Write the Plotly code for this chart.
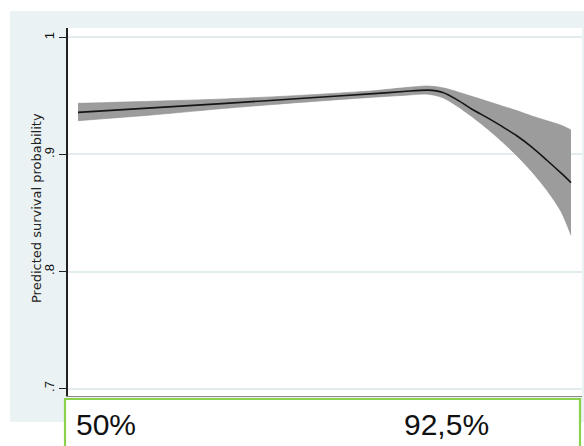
import plotly.graph_objects as go

# Position along the exposure scale (0 = first observed value, 100 = last)
x_vals = [0, 15, 30, 45, 60, 66, 71, 74, 77, 80, 83, 86, 89, 92, 95, 98, 100]

# Predicted survival probability with 95% confidence bounds
pred = [0.9360, 0.9398, 0.9437, 0.9478, 0.9520, 0.9538, 0.9550, 0.9530, 0.9465,
        0.9385, 0.9315, 0.9240, 0.9160, 0.9065, 0.8955, 0.8840, 0.8760]
upper = [0.9437, 0.9455, 0.9475, 0.9505, 0.9545, 0.9570, 0.9585, 0.9570, 0.9535,
         0.9495, 0.9455, 0.9415, 0.9375, 0.9330, 0.9290, 0.9250, 0.9210]
lower = [0.9289, 0.9338, 0.9395, 0.9445, 0.9490, 0.9505, 0.9515, 0.9485, 0.9410,
         0.9320, 0.9220, 0.9110, 0.8990, 0.8855, 0.8700, 0.8510, 0.8310]

y_ticks = [0.7, 0.8, 0.9, 1.0]
y_tick_text = [".7", ".8", ".9", "1"]
box_labels = ["50%", "92,5%"]

W, H = 584, 446
L, R, T, B = 68, 2, 28, 50
pw, ph = W - L - R, H - T - B
TINT = "#eaf2f3"


def px_x(p):
    return (p - L) / pw


def px_y(p):
    return (H - B - p) / ph


fig = go.Figure()

# confidence band: lower bound, then upper bound filled down to it
fig.add_trace(go.Scatter(
    x=x_vals, y=lower, mode="lines",
    line=dict(color="#8e8e8e", width=0.6, shape="spline", smoothing=0.8),
    hoverinfo="skip", showlegend=False,
))
fig.add_trace(go.Scatter(
    x=x_vals, y=upper, mode="lines", fill="tonexty", fillcolor="#9c9c9c",
    line=dict(color="#8e8e8e", width=0.6, shape="spline", smoothing=0.8),
    hoverinfo="skip", showlegend=False,
))
# point prediction
fig.add_trace(go.Scatter(
    x=x_vals, y=pred, mode="lines",
    line=dict(color="#151515", width=1.6, shape="spline", smoothing=0.8),
    showlegend=False,
))

# white page strips around the tinted graph region
for x0, x1, y0, y1 in [(0, 584, 0, 11), (0, 10, 0, 446), (0, 584, 422, 446)]:
    fig.add_shape(type="rect", xref="paper", yref="paper",
                  x0=px_x(x0), x1=px_x(x1), y0=px_y(y1), y1=px_y(y0),
                  fillcolor="white", line=dict(width=0), layer="below")

# label box below the plot
fig.add_shape(type="rect", xref="paper", yref="paper",
              x0=px_x(65), x1=px_x(580), y0=px_y(448), y1=px_y(399),
              fillcolor="white", line=dict(color="#8bd14e", width=2.2),
              layer="above")

for txt, left in zip(box_labels, [74, 402]):
    fig.add_annotation(text=txt, xref="paper", yref="paper",
                       x=px_x(left), y=px_y(424), xanchor="left", yanchor="middle",
                       showarrow=False,
                       font=dict(family="Liberation Sans, Arial", size=30, color="#111111"))

fig.add_annotation(text="Predicted survival probability", xref="paper", yref="paper",
                   x=px_x(37), y=px_y(208), xanchor="center", yanchor="middle",
                   textangle=-90, showarrow=False,
                   font=dict(family="DejaVu Sans", size=13, color="#222222"))

fig.update_layout(
    width=W, height=H,
    margin=dict(l=L, r=R, t=T, b=B, pad=0),
    paper_bgcolor=TINT, plot_bgcolor="white",
    xaxis=dict(range=[(68 - 78) / 4.93, (582 - 78) / 4.93],
               showgrid=False, zeroline=False, showticklabels=False, ticks="",
               showline=True, linecolor="#8a8a8a", linewidth=1.2, fixedrange=True),
    yaxis=dict(range=[0.6936, 1.0081], tickvals=y_ticks, ticktext=y_tick_text,
               tickangle=-90, ticks="outside", ticklen=7, tickwidth=1.4,
               tickcolor="#222222", showline=True, linecolor="#222222", linewidth=1.6,
               showgrid=True, gridcolor="#e3edf0", gridwidth=1.5, zeroline=False,
               tickfont=dict(family="Liberation Sans, Arial", size=13, color="#111111")),
)

fig.write_html("out.html")
